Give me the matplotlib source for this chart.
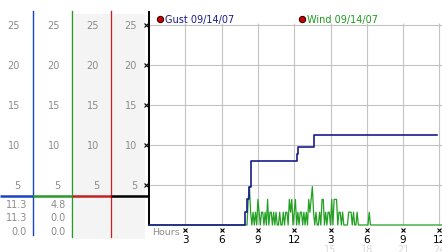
import matplotlib
matplotlib.use("Agg")
import matplotlib.pyplot as plt
import matplotlib.transforms as mtransforms
import numpy as np

# ---- data ----
gust_hours = [0, 7.95, 8.1, 8.25, 8.4, 12.2, 12.35, 13.6, 23.8]
gust_vals = [0, 1.6, 3.2, 4.8, 8.0, 8.9, 9.8, 11.3, 11.3]

wind_start = 8.2   # first sample (hours)
wind_step = 0.1    # sample spacing (hours)
wind_vals = [3.2, 4.8, 1.6, 0, 1.6, 0, 1.6, 0, 3.2, 1.6,
             0, 1.6, 1.6, 0, 1.6, 0, 3.2, 0, 1.6, 1.6,
             0, 1.6, 0, 1.6, 0, 0, 1.6, 0, 0, 1.6,
             0, 1.6, 1.6, 0, 3.2, 1.6, 3.2, 0, 1.6, 3.2,
             0, 1.6, 0, 1.6, 1.6, 0, 1.6, 0, 1.6, 0,
             3.2, 1.6, 3.2, 4.8, 1.6, 0, 1.6, 0, 0, 1.6,
             0, 3.2, 3.2, 0, 1.6, 0, 1.6, 1.6, 0, 3.2,
             0, 3.2, 3.2, 3.2, 0, 1.6, 1.6, 0, 1.6, 0,
             0, 0, 0, 1.6, 1.6, 1.6, 0, 1.6, 0, 0,
             1.6, 0, 0, 0, 0, 0, 0, 0, 0, 0,
             1.6, 0]

hour_ticks = [3, 6, 9, 12, 15, 18, 21, 24]
hour_labels = ["3", "6", "9", "12", "3", "6", "9", "12"]
hour_labels_24 = ["15", "18", "21", "24"]
y_ticks = [5, 10, 15, 20, 25]

legend_labels = ["Gust 09/14/07", "Wind 09/14/07"]

# ---- colours ----
NAVY = "#1a1a8c"
GREEN = "#22a022"
COL_BLUE = "#1a44c0"
COL_GREEN = "#2a9a2a"
COL_RED = "#c02424"
GRID = "#c4c4c4"
LABEL_GRAY = "#8c8c8c"

W, H = 442, 253


def rect(x0, y0, x1, y1):
    return [x0 / W, 1 - y1 / H, (x1 - x0) / W, (y1 - y0) / H]


fig = plt.figure(figsize=(W / 100, H / 100), dpi=100)
fig.patch.set_facecolor("white")

# overlay in pixel coordinates for the left panel decorations
ov = fig.add_axes([0, 0, 1, 1], zorder=0)
ov.set_xlim(0, W)
ov.set_ylim(H, 0)
ov.axis("off")

ax = fig.add_axes(rect(149, 13, 442, 226), zorder=1)
ax.set_facecolor("none")
ax.set_xlim(0, 293 / 12.1)
ax.set_ylim(0, 213 / 8)
for s in ["top", "right", "bottom"]:
    ax.spines[s].set_visible(False)
ax.spines["left"].set_color("black")
ax.spines["left"].set_linewidth(1.4)
ax.set_xticks([])
ax.set_yticks([])

# grid
for v in y_ticks:
    ax.axhline(v, color=GRID, lw=0.8, zorder=1)
ax.vlines(hour_ticks, 0, 25.25, color=GRID, lw=0.8, zorder=1)

# wind and gust (wind sits at zero outside the sampled window)
wind_hours = wind_start + wind_step * np.arange(len(wind_vals))
wx = np.concatenate([[0, wind_start - wind_step], wind_hours, [24.2]])
wy = np.concatenate([[0, 0], wind_vals, [0]])
ax.plot(wx, wy, color=GREEN, lw=0.9, zorder=3, clip_on=False)
ax.plot(gust_hours, gust_vals, color=NAVY, lw=1.2, drawstyle="steps-post",
        zorder=4, clip_on=False)

# x tick labels
bx = mtransforms.blended_transform_factory(ax.transData, ov.transData)
ax.plot(hour_ticks, [231] * len(hour_ticks), "x", color="black", ms=2.2,
        mew=0.8, transform=bx, clip_on=False)
for h, lab in zip(hour_ticks, hour_labels):
    ax.text(h, 240, lab, transform=bx, ha="center", va="center",
            fontsize=7.5, color="black")
for h, lab in zip(hour_ticks[4:], hour_labels_24):
    ax.text(h, 250, lab, transform=bx, ha="center", va="center",
            fontsize=7, color="#d8d8d8")
ov.text(152, 233, "Hours", ha="left", va="center", fontsize=6.8,
        color=LABEL_GRAY)

# left panel: backgrounds
ov.add_patch(plt.Rectangle((74, 15), 36, 225, color="#f4f4f4", lw=0))
ov.add_patch(plt.Rectangle((113, 15), 32, 225, color="#f4f4f4", lw=0))

# column dividers
ov.plot([33, 33], [12, 236], color=COL_BLUE, lw=1.0)
ov.plot([72, 72], [12, 238], color=COL_GREEN, lw=1.0)
ov.plot([111, 111], [12, 238], color=COL_RED, lw=1.0)

# separator bar
ov.plot([0, 33], [197, 197], color=COL_BLUE, lw=1.8, solid_capstyle="butt")
ov.plot([33, 72], [197, 197], color=COL_GREEN, lw=1.8, solid_capstyle="butt")
ov.plot([72, 111], [197, 197], color=COL_RED, lw=1.8, solid_capstyle="butt")
ov.plot([111, 149], [197, 197], color="black", lw=1.8, solid_capstyle="butt")

# column scale labels
by = mtransforms.blended_transform_factory(ov.transData, ax.transData)
for xr in [20, 60, 99, 137]:
    for v in y_ticks:
        ov.text(xr, v, str(v), transform=by, ha="right", va="center",
                fontsize=7, color=LABEL_GRAY)
ov.plot([146] * len(y_ticks), y_ticks, "x", color="black", ms=2.2, mew=0.8,
        transform=by, clip_on=False)

# readouts: max, current, min
gust_read = [max(gust_vals), gust_vals[-1], min(gust_vals)]
wind_read = [max(wind_vals), wind_vals[-1], min(wind_vals)]
for yy, g, w in zip([205, 218, 232], gust_read, wind_read):
    ov.text(27, yy, f"{g:.1f}", ha="right", va="center", fontsize=7,
            color=LABEL_GRAY)
    ov.text(66, yy, f"{w:.1f}", ha="right", va="center", fontsize=7,
            color=LABEL_GRAY)

# legend
for xd, lab, col in zip([160, 302], legend_labels, [NAVY, "#1f9a1f"]):
    ov.plot(xd, 20, "o", ms=4.5, mfc="#cc0000", mec="#3a0000", mew=0.8)
    ov.text(xd + 5, 20, lab, ha="left", va="center", fontsize=7, color=col)

fig.savefig("out.png", dpi=100)
